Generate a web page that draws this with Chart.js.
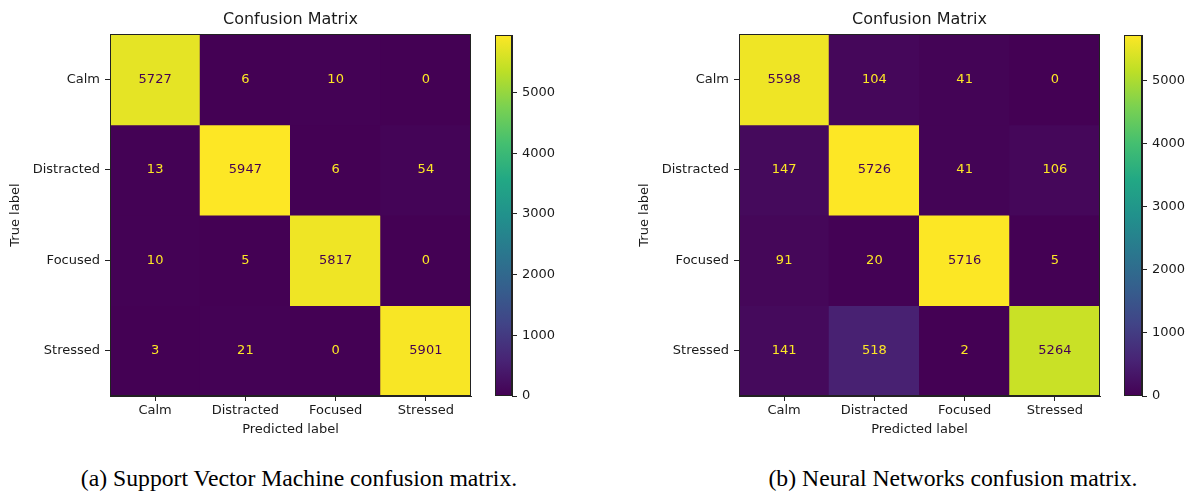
<!DOCTYPE html>
<html>
<head>
<meta charset="utf-8">
<script src="https://cdn.jsdelivr.net/npm/chart.js@4.4.1/dist/chart.umd.min.js"></script>
<style>
  body { margin: 0; background: #fff; width: 1192px; height: 492px; position: relative; overflow: hidden; }
  canvas { position: absolute; top: 0; }
  .caption { position: absolute; top: 467px; width: 440px; font-family: "Liberation Serif", "Times New Roman", serif; font-size: 23.7px; line-height: 23.5px; color: #000; text-align: center; white-space: nowrap; }
</style>
</head>
<body>
<canvas id="svm" width="485" height="450" style="left:0px"></canvas>
<canvas id="svmBar" width="80" height="450" style="left:485px"></canvas>
<canvas id="nn" width="485" height="450" style="left:629px"></canvas>
<canvas id="nnBar" width="78" height="450" style="left:1114px"></canvas>
<div class="caption" style="left:79px">(a) Support Vector Machine confusion matrix.</div>
<div class="caption" style="left:733px">(b) Neural Networks confusion matrix.</div>
<script>
// categorias (filas = true label, columnas = predicted label)
const classes = ["Calm", "Distracted", "Focused", "Stressed"];

// matriz de confusion del SVM
const svmValues = [
  [5727, 6, 10, 0],
  [13, 5947, 6, 54],
  [10, 5, 5817, 0],
  [3, 21, 0, 5901],
];

// matriz de confusion de la red neuronal
const nnValues = [
  [5598, 104, 41, 0],
  [147, 5726, 41, 106],
  [91, 20, 5716, 5],
  [141, 518, 2, 5264],
];

const colorbarTicks = [0, 1000, 2000, 3000, 4000, 5000];

const titleText = "Confusion Matrix";
const xTitle = "Predicted label";
const yTitle = "True label";

// paleta viridis (11 paradas)
const viridis = ["#440154", "#482475", "#414487", "#355f8d", "#2a788e", "#21918c",
  "#22a884", "#44bf70", "#7ad151", "#bddf26", "#fde725"];

const ink = "#1a1a1a";
Chart.defaults.font.family = "'DejaVu Sans', sans-serif";
Chart.defaults.font.size = 13;
Chart.defaults.color = ink;

function hexToRgb(hex) {
  return [parseInt(hex.slice(1, 3), 16), parseInt(hex.slice(3, 5), 16), parseInt(hex.slice(5, 7), 16)];
}

function viridisColor(t) {
  t = Math.max(0, Math.min(1, t));
  const pos = t * (viridis.length - 1);
  const i = Math.min(Math.floor(pos), viridis.length - 2);
  const f = pos - i;
  const a = hexToRgb(viridis[i]);
  const b = hexToRgb(viridis[i + 1]);
  const c = a.map((v, k) => Math.round(v + (b[k] - v) * f));
  return `rgb(${c[0]}, ${c[1]}, ${c[2]})`;
}

function range(values) {
  let min = Infinity;
  let max = -Infinity;
  for (let r = 0; r < values.length; r++) {
    for (let c = 0; c < values[r].length; c++) {
      min = Math.min(min, values[r][c]);
      max = Math.max(max, values[r][c]);
    }
  }
  return { min, max };
}

// marco negro alrededor del area del grafico
const frame = {
  id: "frame",
  afterDraw(chart) {
    const a = chart.chartArea;
    const ctx = chart.ctx;
    ctx.save();
    ctx.strokeStyle = "#222";
    ctx.lineWidth = 1;
    ctx.strokeRect(Math.round(a.left) + 0.5, Math.round(a.top) + 0.5,
      Math.round(a.right - a.left) - 1, Math.round(a.bottom - a.top) - 1);
    ctx.restore();
  },
};

function makeMatrix(id, values) {
  const { min, max } = range(values);
  const thresh = (max + min) / 2;

  const datasets = [];
  for (let r = 0; r < classes.length; r++) {
    const data = [];
    const colors = [];
    for (let c = 0; c < classes.length; c++) {
      data.push([r, r + 1]);
      colors.push(viridisColor((values[r][c] - min) / (max - min)));
    }
    datasets.push({
      label: classes[r],
      data: data,
      backgroundColor: colors,
      borderWidth: 0,
      grouped: false,
      barPercentage: 1,
      categoryPercentage: 1,
      inflateAmount: 0.5,
    });
  }

  // escribe el numero en cada celda
  const cellText = {
    id: "cellText",
    afterDatasetsDraw(chart) {
      const ctx = chart.ctx;
      ctx.save();
      ctx.font = "13px 'DejaVu Sans'";
      ctx.textAlign = "center";
      ctx.textBaseline = "middle";
      for (let r = 0; r < classes.length; r++) {
        const bars = chart.getDatasetMeta(r).data;
        for (let c = 0; c < bars.length; c++) {
          const v = values[r][c];
          ctx.fillStyle = v < thresh ? viridis[10] : viridis[0];
          ctx.fillText(String(v), bars[c].x, (bars[c].y + bars[c].base) / 2);
        }
      }
      ctx.restore();
    },
  };

  return new Chart(document.getElementById(id), {
    type: "bar",
    data: { labels: classes, datasets: datasets },
    options: {
      responsive: false,
      animation: false,
      layout: { padding: { right: 14 } },
      plugins: {
        legend: { display: false },
        tooltip: { enabled: false },
        title: {
          display: true,
          text: titleText,
          fullSize: false,
          color: ink,
          font: { size: 16, weight: "normal" },
          padding: { top: 10, bottom: 5 },
        },
      },
      scales: {
        x: {
          offset: true,
          grid: { offset: false, drawOnChartArea: false, tickLength: 5, color: "#222" },
          border: { color: "#222" },
          ticks: { padding: 2, color: ink, maxRotation: 0 },
          title: { display: true, text: xTitle, color: ink, font: { size: 13 }, padding: { top: 0, bottom: 13 } },
          afterFit: (s) => { s.height = 54; },
        },
        y: {
          min: 0,
          max: classes.length,
          reverse: true,
          afterBuildTicks: (s) => { s.ticks = classes.map((l, i) => ({ value: i + 0.5 })); },
          grid: { drawOnChartArea: false, tickLength: 5, color: "#222" },
          border: { color: "#222" },
          ticks: { padding: 5, color: ink, autoSkip: false, callback: (v) => classes[Math.floor(v)] },
          title: { display: true, text: yTitle, color: ink, font: { size: 13 }, padding: { top: 8, bottom: 0 } },
          afterFit: (s) => { s.width = 110; },
        },
      },
    },
    plugins: [cellText, frame],
  });
}

function makeColorbar(id, values, barWidth) {
  const { min, max } = range(values);
  const canvas = document.getElementById(id);
  const axisWidth = canvas.width - 10 - barWidth;

  return new Chart(canvas, {
    type: "bar",
    data: {
      labels: [""],
      datasets: [{
        data: [[min, max]],
        borderWidth: 0,
        barPercentage: 1,
        categoryPercentage: 1,
        inflateAmount: 0,
        backgroundColor: (context) => {
          const area = context.chart.chartArea;
          if (!area) return viridis[0];
          const g = context.chart.ctx.createLinearGradient(0, area.bottom, 0, area.top);
          for (let i = 0; i < viridis.length; i++) {
            g.addColorStop(i / (viridis.length - 1), viridis[i]);
          }
          return g;
        },
      }],
    },
    options: {
      responsive: false,
      animation: false,
      layout: { padding: { left: 10, top: 35, bottom: 54 } },
      plugins: { legend: { display: false }, tooltip: { enabled: false } },
      scales: {
        x: { display: false },
        y: {
          position: "right",
          min: min,
          max: max,
          afterBuildTicks: (s) => { s.ticks = colorbarTicks.map((v) => ({ value: v })); },
          grid: { drawOnChartArea: false, tickLength: 5, color: "#222" },
          border: { color: "#222" },
          ticks: { padding: 5, color: ink, callback: (v) => String(v) },
          afterFit: (s) => { s.width = axisWidth; },
        },
      },
    },
    plugins: [frame],
  });
}

makeMatrix("svm", svmValues);
makeColorbar("svmBar", svmValues, 17);
makeMatrix("nn", nnValues);
makeColorbar("nnBar", nnValues, 18);
</script>
</body>
</html>
